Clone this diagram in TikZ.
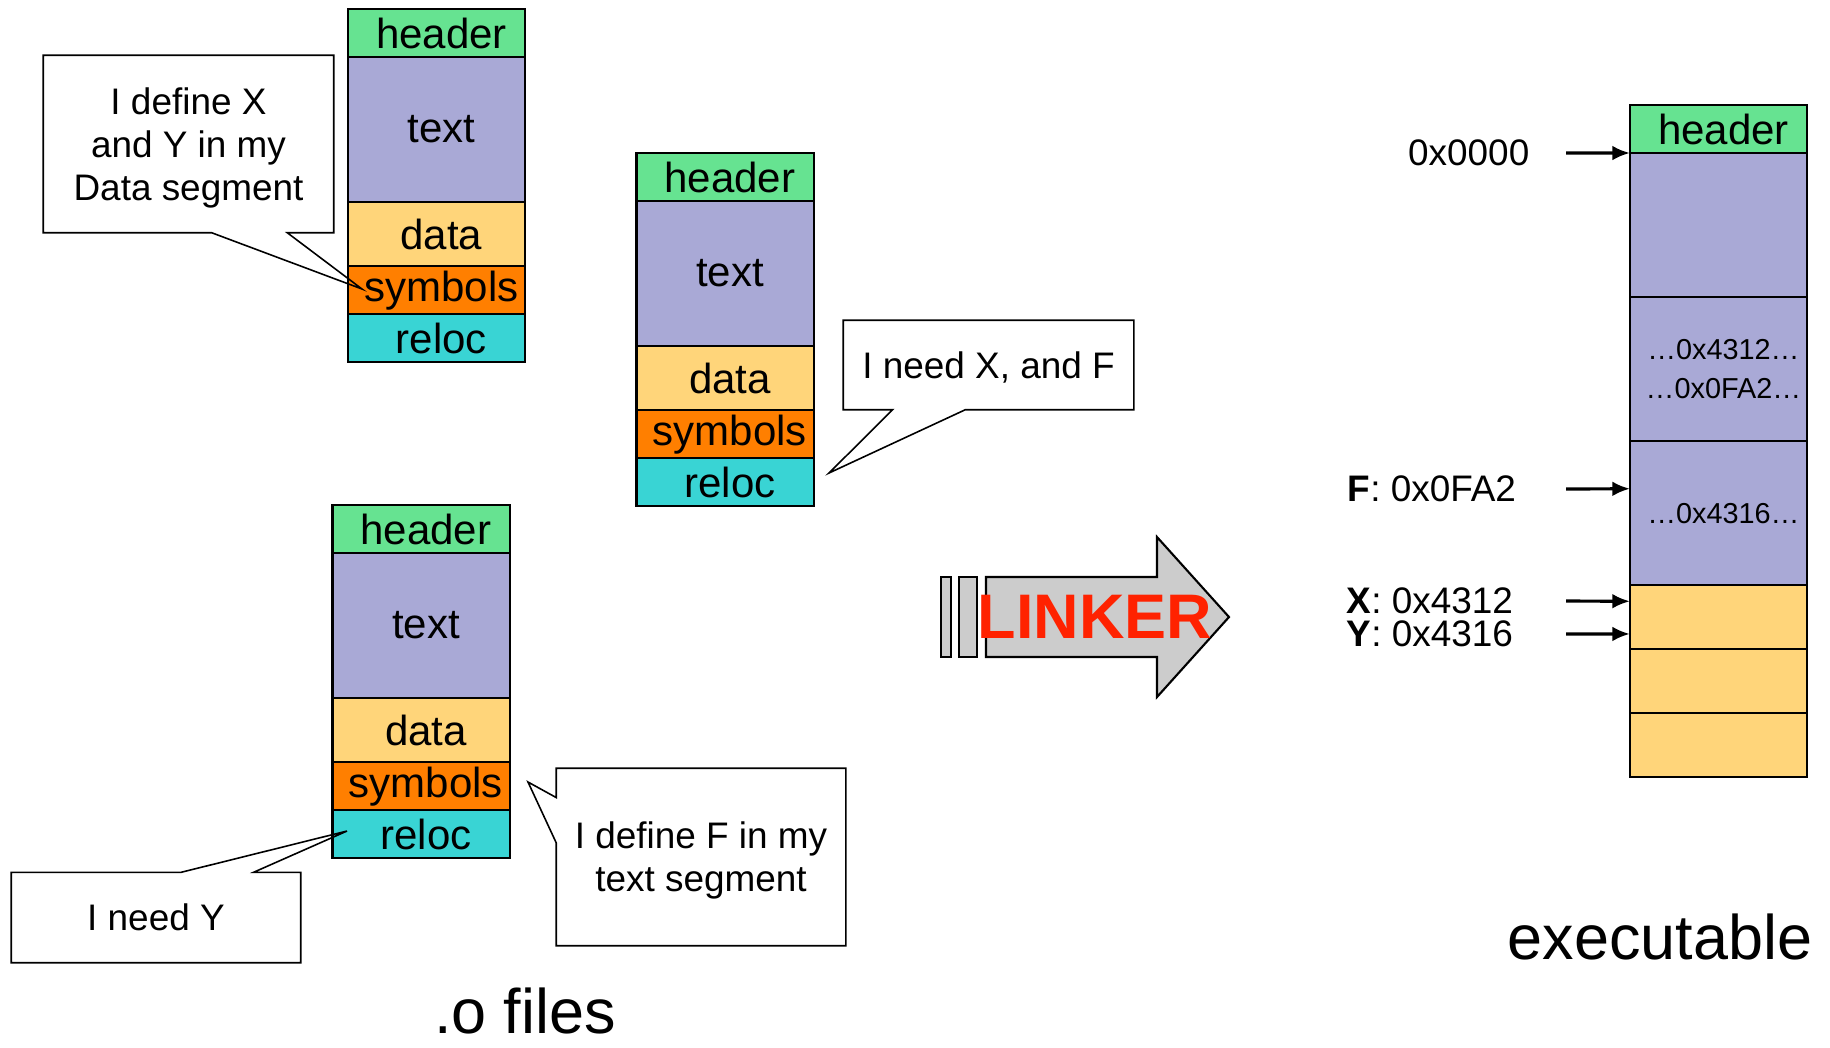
\documentclass[tikz,border=0pt]{standalone}
\usepackage{fontspec}
\setmainfont{Liberation Sans}
\usetikzlibrary{positioning,calc,arrows.meta}

\definecolor{hdrgreen}{HTML}{66E391}
\definecolor{txtblue}{HTML}{A9A9D6}
\definecolor{datyellow}{HTML}{FFD57A}
\definecolor{symorange}{HTML}{FF7F00}
\definecolor{relcyan}{HTML}{39D4D4}
\definecolor{linkgray}{HTML}{CCCCCC}
\definecolor{linkred}{HTML}{FF2200}

\begin{document}
\begin{tikzpicture}[x=0.01cm, y=-0.01cm]
	\tikzstyle{seg}=[draw, line width=0.6pt, minimum width=1.77cm, inner sep=0pt, outer sep=0pt, font=\fontsize{11.95}{13}\selectfont, execute at begin node=\hspace*{2.8pt}]
	\tikzstyle{hdr}=[seg, fill=hdrgreen, minimum height=0.48cm]
	\tikzstyle{txt}=[seg, fill=txtblue, minimum height=1.44cm]
	\tikzstyle{dat}=[seg, fill=datyellow, minimum height=0.64cm]
	\tikzstyle{sym}=[seg, fill=symorange, minimum height=0.48cm]
	\tikzstyle{rel}=[seg, fill=relcyan, minimum height=0.48cm]
	\tikzstyle{bubble}=[align=center, inner sep=0pt, minimum width=2.89cm, text depth=0pt, font=\fontsize{10.5}{12.2}\selectfont]
	\tikzstyle{outline}=[line width=0.45pt, line join=miter]
	\tikzstyle{addr}=[inner sep=0pt, font=\fontsize{10.5}{11}\selectfont]
	\tikzstyle{inaddr}=[align=center, execute at begin node={}, xshift=0pt, font=\fontsize{8.2}{11.1}\selectfont]
	\tikzstyle{ptr}=[-{Latex[length=5pt,width=4.2pt]}, line width=0.9pt]
	\tikzstyle{caption}=[font=\fontsize{17.9}{20}\selectfont]
	\useasboundingbox (0,0) rectangle (1830,1047);

	% object file 1
	\node[hdr] (hdrA) at (436.5,33) {header};
	\node[txt, minimum height=1.45cm, below=0pt of hdrA] (txtA) {text};
	\node[dat, below=0pt of txtA] (datA) {data};
	\node[sym, below=0pt of datA] (symA) {symbols};
	\node[rel, below=0pt of symA] (relA) {reloc};

	% object file 2
	\node[hdr] (hdrB) at (725,177) {header};
	\node[txt, minimum height=1.45cm, below=0pt of hdrB] (txtB) {text};
	\node[dat, below=0pt of txtB] (datB) {data};
	\node[sym, below=0pt of datB] (symB) {symbols};
	\node[rel, below=0pt of symB] (relB) {reloc};

	% object file 3
	\node[hdr] (hdrC) at (421,529) {header};
	\node[txt, minimum height=1.45cm, below=0pt of hdrC] (txtC) {text};
	\node[dat, below=0pt of txtC] (datC) {data};
	\node[sym, below=0pt of datC] (symC) {symbols};
	\node[rel, below=0pt of symC] (relC) {reloc};

	% callouts
	\node[bubble, minimum height=1.76cm] (defXY) at (188.5,144) {I define X\\and Y in my\\Data segment};
	\coordinate (tipXY) at (362,289);
	\draw[outline] (defXY.south west) -- (defXY.north west) -- (defXY.north east) -- (defXY.south east)
		-- ($(defXY.south west)!0.84!(defXY.south east)$) -- (tipXY)
		-- ($(defXY.south west)!0.58!(defXY.south east)$) -- cycle;

	\node[bubble, minimum height=0.88cm] (needXF) at (988.5,365) {I need X, and F};
	\coordinate (tipXF) at (829,473);
	\draw[outline] (needXF.north west) -- (needXF.north east) -- (needXF.south east)
		-- ($(needXF.south west)!0.42!(needXF.south east)$) -- (tipXF)
		-- ($(needXF.south west)!0.17!(needXF.south east)$) -- (needXF.south west) -- cycle;

	\node[bubble, minimum width=2.88cm, minimum height=0.89cm] (needY) at (156,917.5) {I need Y};
	\coordinate (tipY) at (347,831);
	\draw[outline] (needY.south west) -- (needY.north west)
		-- ($(needY.north west)!0.587!(needY.north east)$) -- (tipY)
		-- ($(needY.north west)!0.837!(needY.north east)$) -- (needY.north east)
		-- (needY.south east) -- cycle;

	\node[bubble, minimum width=2.88cm, minimum height=1.76cm] (defF) at (701,857) {I define F in my\\text segment};
	\coordinate (tipF) at (528,782);
	\draw[outline] (defF.north west) -- (defF.north east) -- (defF.south east) -- (defF.south west)
		-- ($(defF.north west)!0.42!(defF.south west)$) -- (tipF)
		-- ($(defF.north west)!0.165!(defF.south west)$) -- cycle;

	% linker arrow
	\draw[line width=0.6pt, fill=linkgray] (940.7,577) rectangle (951,657);
	\draw[line width=0.6pt, fill=linkgray] (959,577) rectangle (977,657);
	\draw[line width=0.6pt, fill=linkgray, line join=miter] (986,577) -- (1157,577) -- (1157,537) -- (1229,617)
		-- (1157,697) -- (1157,657) -- (986,657) -- cycle;
	\node[text=linkred, font=\fontsize{17.9}{20}\selectfont\bfseries, inner sep=0pt] (linker) at (1095,617) {LINKER};

	% executable
	\node[hdr] (exeHdr) at (1718.5,129) {header};
	\node[txt, below=0pt of exeHdr] (exeTxtA) {};
	\node[txt, inaddr, below=0pt of exeTxtA] (exeTxtB) {\ldots0x4312\ldots\\\ldots0x0FA2\ldots};
	\node[txt, inaddr, below=0pt of exeTxtB] (exeTxtC) {\ldots0x4316\ldots};
	\node[dat, below=0pt of exeTxtC] (exeDatA) {};
	\node[dat, below=0pt of exeDatA] (exeDatB) {};
	\node[dat, below=0pt of exeDatB] (exeDatC) {};

	\node[addr, anchor=east] (adr0) at (1530,153) {0x0000};
	\node[addr, anchor=west] (adrF) at (1347,489) {\textbf{F}: 0x0FA2};
	\node[addr, anchor=west] (adrX) at (1346,601) {\textbf{X}: 0x4312};
	\node[addr, anchor=west] (adrY) at (1346,634) {\textbf{Y}: 0x4316};
	\coordinate (from0) at (1566,153);
	\coordinate (fromF) at (1566,489);
	\coordinate (fromX) at (1566,601);
	\coordinate (fromY) at (1566,634);
	\draw[ptr] (from0) -- (exeHdr.south west);
	\draw[ptr] (fromF) -- ($(exeTxtC.north west)!0.33!(exeTxtC.south west)$);
	\draw[ptr] (fromX) -- ($(exeDatA.north west)!0.25!(exeDatA.south west)$);
	\draw[ptr] (fromY) -- ($(exeDatA.north west)!0.76!(exeDatA.south west)$);

	% captions
	\node[caption] (ofiles) at (525,1011) {.o files};
	\node[caption] (exe) at (1660,937) {executable};
\end{tikzpicture}
\end{document}
